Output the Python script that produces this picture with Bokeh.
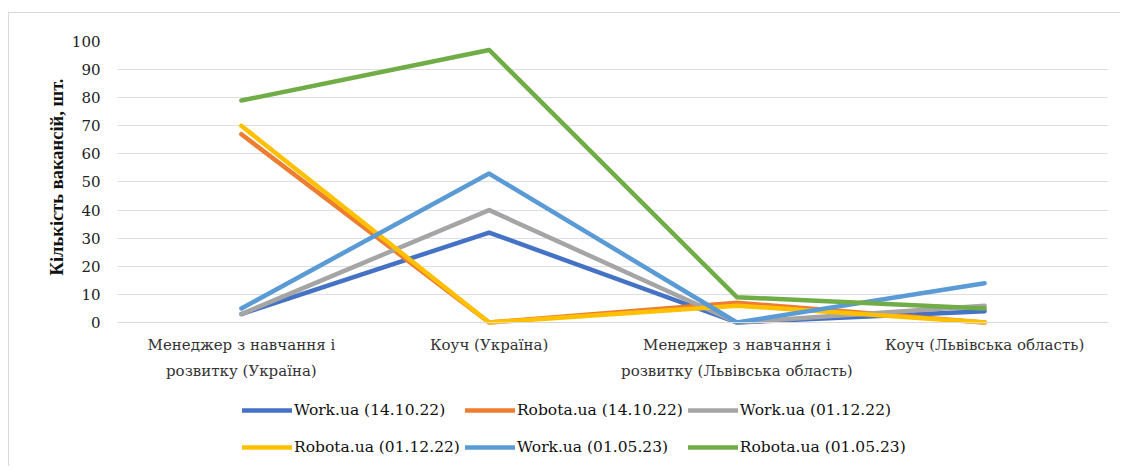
from bokeh.plotting import figure
from bokeh.models import (FactorRange, Range1d, Legend, LegendItem, FixedTicker,
                          CategoricalAxis, Title)
from bokeh.embed import file_html
from bokeh.resources import INLINE

categories = [
    "Менеджер з навчання і\nрозвитку (Україна)",
    "Коуч (Україна)",
    "Менеджер з навчання і\nрозвитку (Львівська область)",
    "Коуч (Львівська область)",
]
series_names = [
    "Work.ua (14.10.22)",
    "Robota.ua (14.10.22)",
    "Work.ua (01.12.22)",
    "Robota.ua (01.12.22)",
    "Work.ua (01.05.23)",
    "Robota.ua (01.05.23)",
]
work_141022 = [3, 32, 0, 4]
robota_141022 = [67, 0, 7, 0]
work_011222 = [3, 40, 0, 6]
robota_011222 = [70, 0, 6, 0]
work_010523 = [5, 53, 0, 14]
robota_010523 = [79, 97, 9, 5]
y_ticks = [0, 10, 20, 30, 40, 50, 60, 70, 80, 90, 100]
y_title = "Кількість вакансій, шт."

series_values = [work_141022, robota_141022, work_011222, robota_011222, work_010523, robota_010523]
colors = ["#4472C4", "#ED7D31", "#A5A5A5", "#FFC000", "#5B9BD5", "#70AD47"]

p = figure(
    width=1120, height=466,
    x_range=FactorRange(*categories, range_padding=0),
    y_range=Range1d(-51.25, 100),
    x_axis_location=None,
    output_backend="svg", toolbar_location=None,
    min_border_left=117, min_border_top=41, min_border_right=12, min_border_bottom=0,
)
p.outline_line_color = None
p.background_fill_color = "white"
p.border_fill_alpha = 0
p.styles = {
    "background": "linear-gradient(#d9d9d9, #d9d9d9) 8px 12px / 1px 100% no-repeat, "
                  "linear-gradient(#d9d9d9, #d9d9d9) 8px 12px / 100% 1px no-repeat, white",
}

renderers = []
for vals, col in zip(series_values, colors):
    r = p.line(x=categories, y=vals, line_color=col, line_width=4.5,
               line_cap="round", line_join="round")
    renderers.append(r)

p.xgrid.grid_line_color = None
p.ygrid.grid_line_color = "#dadfe6"
p.ygrid.grid_line_width = 1

p.yaxis.ticker = FixedTicker(ticks=y_ticks)
p.yaxis.axis_line_color = None
p.yaxis.major_tick_line_color = None
p.yaxis.minor_tick_line_color = None
p.yaxis.major_tick_out = 0
p.yaxis.major_tick_in = 0
p.yaxis.major_label_standoff = 17
p.yaxis.major_label_text_font = "DejaVu Serif"
p.yaxis.major_label_text_font_size = "15px"
p.yaxis.major_label_text_color = "#222222"

ytitle = Title(
    text=y_title, align="left", offset=191, standoff=3,
    text_font="Liberation Serif", text_font_style="bold",
    text_font_size="18.5px", text_color="#111111",
)
p.add_layout(ytitle, "left")

xaxis = CategoricalAxis(
    fixed_location=0,
    axis_line_color="#d9d9d9",
    major_tick_line_color=None,
    major_tick_out=0, major_tick_in=0,
    major_label_standoff=14,
    major_label_text_font="DejaVu Serif",
    major_label_text_font_size="15px",
    major_label_text_color="#333333",
    major_label_text_line_height=1.4,
)
p.add_layout(xaxis, "below")

items = [LegendItem(label=n, renderers=[r]) for n, r in zip(series_names, renderers)]
legend = Legend(
    items=items, location=(125, 3), orientation="horizontal", ncols=3,
    border_line_alpha=0, background_fill_alpha=0, padding=0, margin=0,
    spacing=5, glyph_width=50, glyph_height=32, label_height=32,
    label_standoff=2, label_text_font="DejaVu Serif", label_text_font_size="15.5px",
    label_text_color="#111111",
)
p.add_layout(legend, "center")

open("out.html", "w").write(file_html(p, INLINE))
